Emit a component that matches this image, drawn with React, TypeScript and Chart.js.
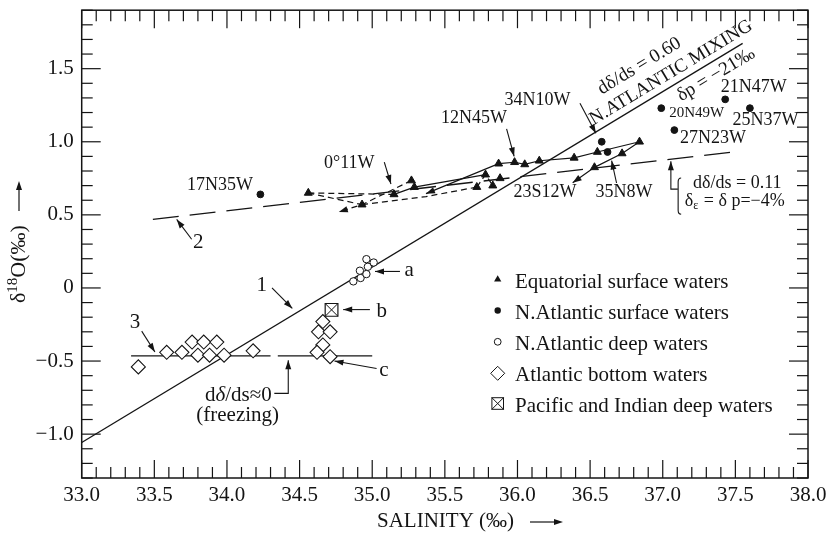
import React, { useEffect, useRef } from 'react';
import { Chart, registerables } from 'chart.js';

Chart.register(...registerables);

const INK = '#141414';
const SERIF = '"Liberation Serif", "Times New Roman", Times, serif';

// ---- axes ----
const X_MIN = 33.0;
const X_MAX = 38.0;
const Y_MIN = -1.3;
const Y_MAX = 1.9;
const X_TICKS = [33.0, 33.5, 34.0, 34.5, 35.0, 35.5, 36.0, 36.5, 37.0, 37.5, 38.0];
const Y_TICKS = [-1.0, -0.5, 0, 0.5, 1.0, 1.5];

// ---- series ----
// Equatorial surface waters (filled triangles)
const EQ_SAL = [34.56, 34.93, 35.15, 35.27, 35.29, 35.72, 35.78, 35.83, 35.88, 35.87, 35.98, 36.05, 36.15, 36.39, 36.53, 36.55, 36.72, 36.84];
const EQ_D18 = [0.65, 0.57, 0.64, 0.735, 0.69, 0.69, 0.775, 0.70, 0.75, 0.85, 0.86, 0.845, 0.87, 0.89, 0.825, 0.93, 0.92, 1.0];
// N. Atlantic surface waters (filled dots)
const NAS_SAL = [34.23, 36.58, 36.62, 36.99, 37.08, 37.43, 37.6];
const NAS_D18 = [0.64, 1.0, 0.93, 1.23, 1.08, 1.29, 1.23];
// N. Atlantic deep waters (open circles)
const NAD_SAL = [34.87, 34.92, 34.96, 34.915, 34.97, 34.96, 35.01];
const NAD_D18 = [0.045, 0.068, 0.095, 0.118, 0.145, 0.197, 0.174];
// Atlantic bottom waters (open diamonds)
const AB_SAL = [33.39, 33.585, 33.69, 33.76, 33.84, 33.93, 33.8, 33.88, 33.98, 34.18, 34.66, 34.63, 34.71, 34.66, 34.62, 34.71];
const AB_D18 = [-0.54, -0.44, -0.44, -0.37, -0.37, -0.37, -0.46, -0.46, -0.46, -0.43, -0.23, -0.3, -0.3, -0.39, -0.44, -0.47];
// Pacific and Indian deep waters (boxed cross)
const PI_SAL = [34.72];
const PI_D18 = [-0.15];

// ---- fitted lines ----
const LINE1_SAL = [33.0, 37.55]; // N. Atlantic mixing, slope 0.60
const LINE1_D18 = [-1.057, 1.673];
const LINE2_SAL = [33.49, 37.52]; // slope 0.11
const LINE2_D18 = [0.469, 0.934];
const LINE3A_SAL = [33.34, 34.3]; // freezing
const LINE3A_D18 = [-0.465, -0.465];
const LINE3B_SAL = [34.35, 35.0];
const LINE3B_D18 = [-0.465, -0.465];

// ---- equatorial trajectories ----
const TRAJ_A_SAL = [36.84, 36.55, 36.39, 36.15, 36.05, 35.98, 35.87, 35.37];
const TRAJ_A_D18 = [1.0, 0.93, 0.89, 0.87, 0.845, 0.86, 0.85, 0.645];
const TRAJ_B_SAL = [36.84, 36.72, 36.53, 36.38];
const TRAJ_B_D18 = [1.0, 0.92, 0.825, 0.72];
const TRAJ_C_SAL = [35.15, 35.29, 35.78];
const TRAJ_C_D18 = [0.64, 0.69, 0.775];
const DASH_A_SAL = [34.56, 35.15];
const DASH_A_D18 = [0.65, 0.64];
const DASH_B_SAL = [34.56, 34.93];
const DASH_B_D18 = [0.65, 0.57];
const DASH_C_SAL = [35.27, 34.93, 34.77];
const DASH_C_D18 = [0.735, 0.57, 0.52];
const DASH_D_SAL = [34.93, 35.37, 35.72];
const DASH_D_D18 = [0.57, 0.625, 0.69];
const DASH_E_SAL = [35.72, 35.78, 35.83];
const DASH_E_D18 = [0.69, 0.775, 0.7];

const LEGEND_LABELS = [
  'Equatorial surface waters',
  'N.Atlantic surface waters',
  'N.Atlantic deep waters',
  'Atlantic bottom waters',
  'Pacific and Indian deep waters',
];

// text annotations, anchored in data units
const ANNOTATIONS = [
  { text: '17N35W', sal: 34.18, d18: 0.703, align: 'right', size: 18 },
  { text: '0°11W', sal: 34.842, d18: 0.854, align: 'center', size: 18 },
  { text: '12N45W', sal: 35.701, d18: 1.161, align: 'center', size: 18 },
  { text: '34N10W', sal: 36.137, d18: 1.286, align: 'center', size: 18 },
  { text: '20N49W', sal: 37.044, d18: 1.199, align: 'left', size: 15 },
  { text: '21N47W', sal: 37.4, d18: 1.376, align: 'left', size: 18 },
  { text: '25N37W', sal: 37.48, d18: 1.145, align: 'left', size: 18 },
  { text: '27N23W', sal: 37.118, d18: 1.024, align: 'left', size: 18 },
  { text: '23S12W', sal: 36.189, d18: 0.657, align: 'center', size: 18 },
  { text: '35N8W', sal: 36.734, d18: 0.657, align: 'center', size: 18 },
  { text: '1', sal: 34.239, d18: 0.016, align: 'center', size: 21 },
  { text: '2', sal: 33.802, d18: 0.31, align: 'center', size: 21 },
  { text: '3', sal: 33.367, d18: -0.234, align: 'center', size: 21 },
  { text: 'a', sal: 35.255, d18: 0.118, align: 'center', size: 21 },
  { text: 'b', sal: 35.065, d18: -0.161, align: 'center', size: 21 },
  { text: 'c', sal: 35.081, d18: -0.567, align: 'center', size: 21 },
  { text: '(freezing)', sal: 34.074, d18: -0.869, align: 'center', size: 21 },
  { text: 'dδ/ds = 0.11', sal: 37.209, d18: 0.718, align: 'left', size: 18 },
];

// pointer arrows (arrow head at last point)
const POINTERS = [
  { sal: [34.31, 34.45], d18: [0.0, -0.14] },
  { sal: [33.757, 33.654], d18: [0.333, 0.469] },
  { sal: [33.413, 33.504], d18: [-0.295, -0.438] },
  { sal: [35.191, 35.019], d18: [0.113, 0.113] },
  { sal: [34.984, 34.8], d18: [-0.148, -0.148] },
  { sal: [35.03, 34.74], d18: [-0.551, -0.5] },
  { sal: [35.083, 35.129], d18: [0.861, 0.711] },
  { sal: [35.925, 35.977], d18: [1.088, 0.9] },
  { sal: [36.43, 36.54], d18: [1.263, 1.059] },
  { sal: [36.682, 36.648], d18: [0.718, 0.871] },
  { sal: [34.326, 34.422, 34.422], d18: [-0.721, -0.721, -0.494] },
  { sal: [37.104, 37.056, 37.056], d18: [0.676, 0.676, 0.866] },
];

const pts = (xs: number[], ys: number[]) => xs.map((x, i) => ({ x, y: ys[i] }));

function arrowHead(ctx: CanvasRenderingContext2D, x0: number, y0: number, x1: number, y1: number, len = 9, half = 3.2) {
  const ang = Math.atan2(y1 - y0, x1 - x0);
  const c = Math.cos(ang);
  const s = Math.sin(ang);
  ctx.beginPath();
  ctx.moveTo(x1, y1);
  ctx.lineTo(x1 - len * c + half * s, y1 - len * s - half * c);
  ctx.lineTo(x1 - len * c - half * s, y1 - len * s + half * c);
  ctx.closePath();
  ctx.fill();
}

function seg(ctx: CanvasRenderingContext2D, x0: number, y0: number, x1: number, y1: number) {
  ctx.beginPath();
  ctx.moveTo(x0, y0);
  ctx.lineTo(x1, y1);
  ctx.stroke();
}

function lineVal(sal: number) {
  const t = (sal - LINE1_SAL[0]) / (LINE1_SAL[1] - LINE1_SAL[0]);
  return LINE1_D18[0] + t * (LINE1_D18[1] - LINE1_D18[0]);
}

const overlay = {
  id: 'overlay',
  afterDatasetsDraw(chart: any) {
    const { ctx, chartArea: a, scales } = chart;
    const X = (v: number) => scales.x.getPixelForValue(v);
    const Y = (v: number) => scales.y.getPixelForValue(v);
    ctx.save();
    ctx.fillStyle = INK;
    ctx.strokeStyle = INK;
    ctx.setLineDash([]);

    // arrowheads on trajectories
    chart.data.datasets.forEach((ds: any, i: number) => {
      if (!ds.arrowEnd) return;
      const d = chart.getDatasetMeta(i).data;
      const p0 = d[d.length - 2];
      const p1 = d[d.length - 1];
      arrowHead(ctx, p0.x, p0.y, p1.x, p1.y);
    });

    // frame
    ctx.lineWidth = 1.5;
    ctx.strokeRect(a.left, a.top, a.right - a.left, a.bottom - a.top);

    // inward ticks on all sides
    ctx.lineWidth = 1.2;
    for (let i = 0; i <= 50; i++) {
      const px = X(X_MIN + i / 10);
      const len = i % 5 === 0 ? 18 : 11;
      seg(ctx, px, a.bottom, px, a.bottom - len);
      seg(ctx, px, a.top, px, a.top + len);
    }
    for (let i = -13; i <= 19; i++) {
      const py = Y(i / 10);
      const len = i % 5 === 0 ? 19 : 11;
      seg(ctx, a.left, py, a.left + len, py);
      seg(ctx, a.right, py, a.right - len, py);
    }

    // pointer arrows
    ctx.lineWidth = 1.1;
    POINTERS.forEach((p) => {
      const xs = p.sal.map(X);
      const ys = p.d18.map(Y);
      ctx.beginPath();
      ctx.moveTo(xs[0], ys[0]);
      for (let k = 1; k < xs.length; k++) ctx.lineTo(xs[k], ys[k]);
      ctx.stroke();
      const n = xs.length;
      arrowHead(ctx, xs[n - 2], ys[n - 2], xs[n - 1], ys[n - 1], 9, 3);
    });

    // bracket next to the 0.11 annotation
    const bx = X(37.106);
    const bt = Y(0.752);
    const bb = Y(0.505);
    ctx.beginPath();
    ctx.moveTo(bx + 3, bt);
    ctx.quadraticCurveTo(bx, bt, bx, bt + 4);
    ctx.lineTo(bx, bb - 4);
    ctx.quadraticCurveTo(bx, bb, bx + 3, bb);
    ctx.stroke();

    // text annotations
    ctx.textBaseline = 'middle';
    ANNOTATIONS.forEach((t) => {
      ctx.font = `${t.size}px ${SERIF}`;
      ctx.textAlign = t.align as CanvasTextAlign;
      ctx.fillText(t.text, X(t.sal), Y(t.d18));
    });

    // δε = δ p=−4%
    {
      let cx = X(37.152);
      const cy = Y(0.594);
      ctx.textAlign = 'left';
      ctx.font = `18px ${SERIF}`;
      ctx.fillText('δ', cx, cy);
      cx += ctx.measureText('δ').width;
      ctx.font = `12px ${SERIF}`;
      ctx.fillText('ε', cx, cy + 5);
      cx += ctx.measureText('ε').width + 1;
      ctx.font = `18px ${SERIF}`;
      ctx.fillText(' = δ p=\u22124%', cx, cy);
    }

    // dδ/ds≈0 with italic delta
    {
      ctx.font = `21px ${SERIF}`;
      const w1 = ctx.measureText('d').width;
      ctx.font = `italic 21px ${SERIF}`;
      const w2 = ctx.measureText('δ').width;
      ctx.font = `21px ${SERIF}`;
      const w3 = ctx.measureText('/ds≈0').width;
      let cx = X(34.078) - (w1 + w2 + w3) / 2;
      const cy = Y(-0.733);
      ctx.textAlign = 'left';
      ctx.fillText('d', cx, cy);
      cx += w1;
      ctx.font = `italic 21px ${SERIF}`;
      ctx.fillText('δ', cx, cy);
      cx += w2;
      ctx.font = `21px ${SERIF}`;
      ctx.fillText('/ds≈0', cx, cy);
    }

    // texts along line 1
    const ang = Math.atan2(Y(LINE1_D18[1]) - Y(LINE1_D18[0]), X(LINE1_SAL[1]) - X(LINE1_SAL[0]));
    const along = (text: string, sal: number, off: number, size: number) => {
      ctx.save();
      ctx.translate(X(sal), Y(lineVal(sal)));
      ctx.rotate(ang);
      ctx.font = `${size}px ${SERIF}`;
      ctx.textAlign = 'center';
      ctx.textBaseline = 'alphabetic';
      ctx.fillText(text, 0, -off);
      ctx.restore();
    };
    along('dδ/ds = 0.60', 36.96, 29, 19);
    along('N.ATLANTIC MIXING', 37.1, 7, 19);
    along('δp = \u221221‰', 37.32, -18, 19);

    // legend
    const lx = 497.7;
    const rows = [279.5, 310.5, 341.8, 373.3, 403.5];
    ctx.lineWidth = 1;
    {
      const r = 4.2;
      const y0 = rows[0];
      ctx.beginPath();
      ctx.moveTo(lx, y0 - r);
      ctx.lineTo(lx + r * 0.866, y0 + r * 0.5);
      ctx.lineTo(lx - r * 0.866, y0 + r * 0.5);
      ctx.closePath();
      ctx.fill();
    }
    ctx.beginPath();
    ctx.arc(lx, rows[1], 3.2, 0, Math.PI * 2);
    ctx.fill();
    ctx.beginPath();
    ctx.arc(lx, rows[2], 3.4, 0, Math.PI * 2);
    ctx.stroke();
    {
      const r = 7;
      const y0 = rows[3];
      ctx.beginPath();
      ctx.moveTo(lx, y0 - r);
      ctx.lineTo(lx + r, y0);
      ctx.lineTo(lx, y0 + r);
      ctx.lineTo(lx - r, y0);
      ctx.closePath();
      ctx.stroke();
    }
    {
      const h = 5.8;
      const y0 = rows[4];
      ctx.strokeRect(lx - h, y0 - h, 2 * h, 2 * h);
      seg(ctx, lx - h, y0 - h, lx + h, y0 + h);
      seg(ctx, lx - h, y0 + h, lx + h, y0 - h);
    }
    ctx.font = `21px ${SERIF}`;
    ctx.textAlign = 'left';
    ctx.textBaseline = 'middle';
    LEGEND_LABELS.forEach((lab, i) => ctx.fillText(lab, 515, rows[i] + 2.5));

    // x-axis title
    ctx.font = `21px ${SERIF}`;
    ctx.fillText('SALINITY (‰)', 377, 521);
    ctx.lineWidth = 1.2;
    seg(ctx, 530, 522, 560, 522);
    arrowHead(ctx, 530, 522, 563, 522, 9, 3);

    // y-axis title (rotated)
    ctx.save();
    ctx.translate(19, 303);
    ctx.rotate(-Math.PI / 2);
    ctx.textAlign = 'left';
    ctx.textBaseline = 'middle';
    let cx = 0;
    ctx.font = `22px ${SERIF}`;
    ctx.fillText('δ', cx, 0);
    cx += ctx.measureText('δ').width;
    ctx.font = `15px ${SERIF}`;
    ctx.fillText('18', cx, -6);
    cx += ctx.measureText('18').width;
    ctx.font = `22px ${SERIF}`;
    ctx.fillText('O(‰)', cx, 0);
    cx += ctx.measureText('O(‰)').width;
    seg(ctx, cx + 14, 0, cx + 40, 0);
    arrowHead(ctx, cx + 14, 0, cx + 44, 0, 9, 3);
    ctx.restore();

    ctx.restore();
  },
};

export default function App() {
  const ref = useRef<HTMLCanvasElement>(null);
  useEffect(() => {
    if (!ref.current) return;
    const marker = (label: string, xs: number[], ys: number[], style: string, radius: number, fill: string, bw: number) => ({
      label,
      data: pts(xs, ys),
      pointStyle: style,
      pointRadius: radius,
      pointHoverRadius: radius,
      backgroundColor: fill,
      borderColor: INK,
      borderWidth: bw,
      showLine: false,
    });
    const path = (xs: number[], ys: number[], dash: number[], width: number, arrowEnd = false) => ({
      data: pts(xs, ys),
      showLine: true,
      pointRadius: 0,
      borderColor: INK,
      backgroundColor: INK,
      borderWidth: width,
      borderDash: dash,
      fill: false,
      tension: 0,
      arrowEnd,
    });
    const chart = new Chart(ref.current, {
      type: 'scatter',
      data: {
        datasets: [
          marker('Pacific and Indian deep waters', PI_SAL, PI_D18, 'crossRot', 9, 'rgba(0,0,0,0)', 1),
          marker('Pacific and Indian deep waters box', PI_SAL, PI_D18, 'rect', 9, '#ffffff', 1.2),
          marker('Atlantic bottom waters', AB_SAL, AB_D18, 'rectRot', 7, '#ffffff', 1.1),
          marker('N.Atlantic deep waters', NAD_SAL, NAD_D18, 'circle', 3.7, '#ffffff', 1),
          marker('N.Atlantic surface waters', NAS_SAL, NAS_D18, 'circle', 3.4, INK, 1),
          marker('Equatorial surface waters', EQ_SAL, EQ_D18, 'triangle', 4.6, INK, 1),
          path(TRAJ_A_SAL, TRAJ_A_D18, [], 1.2, true),
          path(TRAJ_B_SAL, TRAJ_B_D18, [], 1.2, true),
          path(TRAJ_C_SAL, TRAJ_C_D18, [], 1.2),
          path(DASH_A_SAL, DASH_A_D18, [6, 4], 1.2),
          path(DASH_B_SAL, DASH_B_D18, [6, 4], 1.2),
          path(DASH_C_SAL, DASH_C_D18, [6, 4], 1.2, true),
          path(DASH_D_SAL, DASH_D_D18, [6, 4], 1.2),
          path(DASH_E_SAL, DASH_E_D18, [6, 4], 1.2),
          path(LINE1_SAL, LINE1_D18, [], 1.3),
          path(LINE2_SAL, LINE2_D18, [26, 11], 1.3),
          path(LINE3A_SAL, LINE3A_D18, [], 1.3),
          path(LINE3B_SAL, LINE3B_D18, [], 1.3),
        ] as any,
      },
      options: {
        responsive: false,
        devicePixelRatio: 1,
        animation: false,
        events: [],
        layout: { padding: { left: 0, top: 8, right: 23, bottom: 0 } },
        plugins: {
          legend: { display: false },
          tooltip: { enabled: false },
          title: { display: false },
        },
        scales: {
          x: {
            type: 'linear',
            min: X_MIN,
            max: X_MAX,
            afterBuildTicks: (s: any) => {
              s.ticks = X_TICKS.map((v) => ({ value: v }));
            },
            afterFit: (s: any) => {
              s.height = 60;
              s.paddingLeft = 0;
              s.paddingRight = 0;
            },
            grid: { display: false, drawTicks: false },
            border: { display: false },
            ticks: {
              color: INK,
              font: { family: SERIF, size: 21 },
              padding: 5,
              maxRotation: 0,
              autoSkip: false,
              callback: (v: any) => Number(v).toFixed(1),
            },
          },
          y: {
            type: 'linear',
            min: Y_MIN,
            max: Y_MAX,
            afterBuildTicks: (s: any) => {
              s.ticks = Y_TICKS.map((v) => ({ value: v }));
            },
            afterFit: (s: any) => {
              s.width = 81.7;
              s.paddingTop = 0;
              s.paddingBottom = 0;
            },
            grid: { display: false, drawTicks: false },
            border: { display: false },
            ticks: {
              color: INK,
              font: { family: SERIF, size: 21 },
              padding: 8,
              autoSkip: false,
              callback: (v: any) => {
                const n = Number(v);
                if (Math.abs(n) < 1e-9) return '0';
                return (n < 0 ? '\u2212' : '') + Math.abs(n).toFixed(1);
              },
            },
          },
        },
      } as any,
      plugins: [overlay],
    });
    return () => chart.destroy();
  }, []);
  return (
    <canvas
      ref={ref}
      width={831}
      height={538}
      style={{ position: 'absolute', left: 0, top: 0, width: 831, height: 538, background: '#ffffff' }}
    />
  );
}
